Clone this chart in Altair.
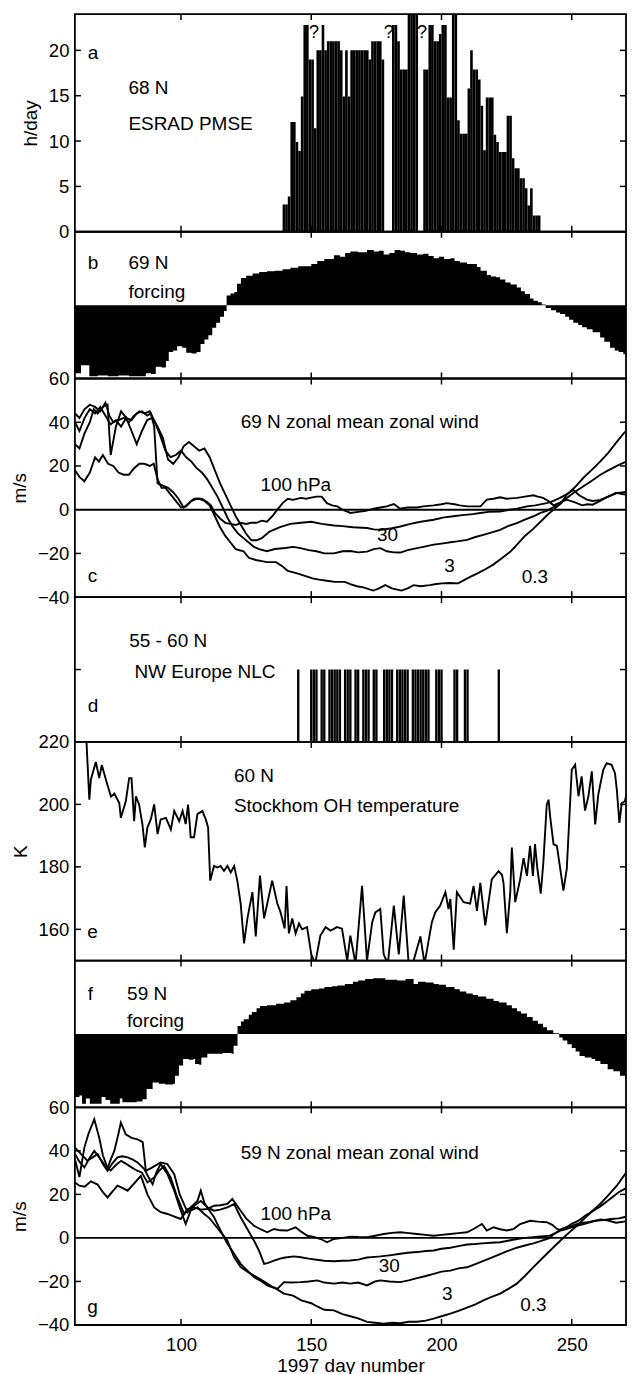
import altair as alt
import pandas as pd

FONT = "Liberation Sans"
W = 552
XDOM = [59.26, 270.83]
XTICKS = [100, 150, 200, 250]

# ---------------- data ----------------
# (a) ESRAD PMSE, hours per day, one value per day starting at day 139
pmse_first_day = 139
pmse_hours = [3.0, 3.0, 3.9, 12.1, 12.1, 9.9, 8.9, 14.9, 22.8, 22.8,
              19.0, 19.0, 11.4, 20.0, 20.0, 22.8, 20.0, 21.0, 21.0, 21.0,
              21.0, 21.0, 20.0, 14.9, 20.0, 14.9, 20.0, 20.0, 20.0, 20.0,
              20.0, 20.0, 20.0, 19.0, 21.0, 21.0, 21.0, 21.0, 19.0, 0,
              0, 0, 22.8, 22.8, 21.0, 17.9, 17.9, 17.9, 24, 24,
              24, 24, 0, 0, 17.9, 17.9, 22.8, 22.8, 21.0, 21.0,
              21.8, 22.8, 22.8, 14.8, 14.8, 24, 24, 12.3, 10.8, 10.8,
              10.8, 15.8, 20.0, 17.9, 17.9, 16.8, 13.9, 9.0, 14.8, 14.8,
              14.8, 10.7, 9.9, 8.8, 8.8, 8.8, 12.8, 12.8, 8.1, 7.0,
              7.0, 5.9, 5.9, 4.8, 2.9, 4.8, 1.8, 1.8, 1.8]
pmse_question_marks = [(149.1, 21.9), (177.8, 21.9), (190.6, 21.9)]

# (b) 69 N forcing (relative units), (day, value)
forcing_69 = [(59.26, -0.93), (61.6, -0.82), (64.8, -0.97), (68, -0.96), (72, -0.97), (76, -0.96),
              (80, -0.97), (84, -0.97), (86.5, -0.93), (88.5, -0.94), (90.3, -0.84), (92.5, -0.85),
              (94.2, -0.76), (95.3, -0.64), (97, -0.62), (98.5, -0.56), (100.5, -0.58), (102, -0.65),
              (104, -0.66), (106, -0.64), (107.5, -0.53), (109, -0.47), (110.5, -0.41), (112, -0.31),
              (113.5, -0.24), (115, -0.16), (116.5, -0.08), (117.5, 0.13), (119, 0.16), (120.5, 0.18),
              (121.5, 0.29), (123, 0.37), (125, 0.40), (127.5, 0.43), (130, 0.45), (133, 0.46),
              (136, 0.47), (139, 0.49), (142, 0.51), (145, 0.53), (148, 0.53), (150, 0.56),
              (152.3, 0.60), (155, 0.63), (158.7, 0.68), (161, 0.66), (163, 0.71), (165, 0.73),
              (168, 0.72), (171.4, 0.75), (174, 0.73), (176, 0.74), (177.8, 0.69), (180, 0.71),
              (182, 0.75), (184.2, 0.74), (186, 0.72), (188, 0.71), (190.6, 0.69), (193, 0.70),
              (195, 0.67), (197, 0.64), (199, 0.66), (201, 0.63), (203.4, 0.64), (205, 0.60),
              (207, 0.58), (209.8, 0.56), (211.5, 0.56), (213.6, 0.52), (215, 0.47), (217.4, 0.41),
              (219, 0.39), (221, 0.38), (222.5, 0.35), (224.5, 0.31), (226.5, 0.28), (228.9, 0.24),
              (230.5, 0.19), (232, 0.15), (234, 0.09), (235.3, 0.06), (237, 0.04), (238.5, 0.01),
              (240, -0.04), (242, -0.07), (244, -0.10), (245.5, -0.12), (247.5, -0.16), (249, -0.20),
              (250.6, -0.24), (252.5, -0.27), (254, -0.30), (255.8, -0.33), (258, -0.37), (260.9, -0.44),
              (262.5, -0.50), (264.7, -0.58), (266.5, -0.62), (268, -0.64), (269.8, -0.67), (271, -0.73),
              (272, -0.80), (272.73, -0.85)]

# (c) 69 N zonal mean zonal wind, m/s, (day, value)
c_100hpa = [(59.3, 18), (61, 15), (62.9, 13), (65, 17), (67, 24), (68.5, 22), (70, 25), (72, 21), (74, 20), (76, 17),
            (78, 16), (80, 16), (82, 19), (84, 21), (86, 21), (88, 20), (89.5, 21), (91, 14), (92.5, 10), (94, 10),
            (96, 7), (98, 4), (100, 1), (102, 1.5), (104, 4), (106, 5), (108, 5), (110, 3.5), (111.5, 2), (113, -1.5),
            (115, -4), (117, -6), (119, -6.5), (121, -7), (123, -6), (125, -6.5), (127, -6), (129, -6), (131, -5), (133, -5.5),
            (135, -3), (137, 0), (139, 3), (141, 5), (143, 4.5), (146, 5.4), (148, 5), (150, 5.5), (152, 6), (154, 6),
            (156, 3), (158, 2), (160, 1.5), (162, 0), (165, -1.5), (168, -1), (171, -0.5), (174, 0.5), (176.5, 1), (179, 1.5),
            (181.7, 2.6), (184, 0.5), (187, 1), (190.6, 1), (193, 1.5), (197, 2), (200, 2.5), (202, 3), (205, 2.5), (207, 2),
            (210, 1.5), (213, 1.5), (215, 1.5), (217.4, 4.6), (220, 5), (222.5, 5.7), (225, 5), (229, 5.4), (232, 6), (235.3, 6.6),
            (237, 6), (239, 5.4), (241, 4), (243, 2), (245, 3), (248, 4.6), (251, 3.5), (254, 2), (256, 2.5), (258, 2.3),
            (260, 3.5), (263, 5.4), (265, 6.5), (267, 7.7), (270, 7), (272.73, 6.9)]
c_30hpa = [(59.3, 40), (61, 36), (63, 42), (65, 46), (67, 44), (69, 47), (71, 43), (73, 39), (75, 41), (77, 38),
           (79, 42), (81, 36), (83, 30), (85, 36), (87, 41), (89, 42), (91, 38), (93, 33), (95, 23), (97, 21),
           (99, 24), (101, 29), (103, 31), (105, 29), (107, 27), (109, 28), (111, 24), (113, 18), (115, 12), (117, 7),
           (119, 2), (121, -3), (123, -7), (125, -11), (127, -14), (129, -14), (131, -13), (134, -10), (138, -8), (142, -6.5),
           (146, -6), (150, -5.5), (154, -6.5), (158.7, -7.2), (162, -7.5), (166, -8), (171.4, -8.4), (174, -9), (177, -9.2), (181, -8.5),
           (184.2, -7.7), (188, -6.5), (192, -5.5), (197, -4.6), (201, -3.5), (204.6, -3), (208, -2.5), (212, -2), (214.9, -1.5), (218, -1),
           (222.5, -0.8), (226, 0), (229, 0.5), (232.8, 1.5), (236, 2), (240.4, 3), (243, 4), (245.5, 5.4), (248, 7), (250.6, 9),
           (253, 6.5), (255.8, 4.6), (258, 4), (261, 4.5), (264, 6), (267, 7.5), (270, 8), (272.73, 8.5)]
c_3hpa = [(59.3, 44), (61, 42), (63, 46), (65, 48), (67, 47), (69, 45), (71, 49), (72.5, 43), (74, 40), (76, 41),
          (78, 42), (80, 40), (82, 43), (84, 45), (86, 44), (88, 45), (90, 40), (92, 34), (94, 27), (96, 24),
          (98, 25), (100, 27), (102, 24), (104, 22), (106, 19), (108, 17), (110, 14), (112, 10), (114, 6), (116, 1),
          (118, -4), (120, -8), (122, -11), (124, -13), (126, -15), (128, -17), (130, -18), (133, -19), (136, -18), (140, -17.5),
          (143, -17), (145.9, -17.6), (149, -18.5), (152, -19), (155, -20), (158.7, -20), (162, -19), (165, -18.9), (168, -19.5), (171.4, -19.2),
          (174, -18), (176.5, -17.6), (179, -19), (181.7, -19.5), (184.2, -19.6), (187, -18.5), (190.6, -17.6), (193, -17), (197, -16), (200, -15.5),
          (203.4, -14.9), (206, -14.5), (209.8, -13.8), (213, -12.5), (216.1, -11.5), (219, -10.5), (222.5, -9.2), (225.5, -7.5), (228.9, -6.1), (232, -4.5),
          (235.3, -3), (238, -1.5), (240.4, -0.5), (242, 0.5), (244.3, 2), (246, 3.5), (248.1, 5.4), (251, 8), (254.5, 10.7), (258, 13.5),
          (261, 16), (264, 18), (267.3, 20), (270, 21.5), (272.73, 23)]
c_03hpa = [(59.3, 30), (61, 28), (63, 35), (65, 40), (66.5, 46), (68, 44), (70, 47), (71.8, 48), (73, 25), (75, 38),
           (77, 45), (79, 42), (81, 41), (83, 44), (85, 45), (87, 43), (88.4, 44), (89.7, 38), (91, 12), (93, 11),
           (95, 10), (97, 8), (99, 5), (101, 1), (103, 3), (105, 5), (107, 5), (109, 4), (111, 2), (113, -3),
           (115, -8), (117, -12), (119, -15), (121, -18), (124, -19), (126, -22), (128.7, -23), (131, -23.5), (133, -24), (136.5, -24),
           (139, -26), (141, -28), (144.3, -29), (147, -30), (150.5, -31.4), (153, -32), (156, -32.5), (159, -33), (162.9, -33), (165, -34),
           (167.5, -35), (170, -35.5), (173.8, -37), (176, -36), (178.4, -34.5), (181, -36), (184.6, -37), (187, -36), (189.3, -34.5), (192, -35),
           (195.5, -34.5), (198, -34), (200.2, -33.7), (203, -33.5), (206.4, -33.7), (209, -32), (211, -30.7), (214, -29), (217.2, -27), (220, -25),
           (223.4, -22), (226.6, -19), (229, -16), (232, -12), (235, -9), (238, -5.5), (241, -2), (243.5, 0.5), (246, 3), (248.1, 6.9),
           (251, 10), (254.5, 14.6), (257.5, 18), (260.9, 22), (264, 26), (267.3, 31), (270, 35), (272.73, 38)]

# (d) days with NLC observed over NW Europe
nlc_days = [145, 150, 151, 152, 154, 155, 157, 158, 159, 160, 161, 163, 164, 165, 167, 168,
            170, 171, 172, 174, 175, 178, 179, 180, 181, 183, 184, 185, 186, 187, 189, 190,
            191, 192, 193, 194, 195, 198, 199, 200, 205, 206, 209, 210, 222]

# (e) Stockholm OH temperature, K, (day, value)
oh_temp = [(63.6, 222), (64.8, 201.5), (65.4, 208), (67.3, 213.6), (68.6, 208.4), (69.6, 212.6), (71.2, 207.8),
           (73.1, 202.5), (74.4, 203.5), (76.3, 200.4), (76.9, 195.7), (78.8, 201), (80.1, 208.4), (81, 208.4),
           (82, 194.6), (82.7, 202.6), (83.9, 200), (85.2, 193.5), (86.1, 186.2), (87.1, 192.6), (88.4, 195.2),
           (89.7, 200), (91, 190.5), (92.2, 195.2), (94.2, 195.7), (96.1, 192), (97.4, 197.9), (99.3, 194.6),
           (100.6, 197.9), (101.8, 193.7), (102.7, 199.9), (103.4, 193.2), (103.7, 189.5), (105, 189.5), (106.3, 196.9),
           (108.2, 197.9), (109.5, 195.2), (110.4, 192.6), (111.2, 175.6), (112.7, 180.3), (114, 179.8), (115.2, 180.3),
           (116.5, 178.7), (117.8, 180.3), (119.1, 178.2), (120.4, 180.3), (121.6, 175.6), (122.9, 168.2), (124.2, 155.5),
           (125.5, 163.5), (127.4, 171.9), (128.7, 157.7), (130.3, 177.2), (131.9, 163.5), (133.1, 168.2), (135, 175.6),
           (137, 168.2), (138.2, 165.5), (139.8, 160.3), (140.5, 173.9), (141.4, 158.7), (142.7, 163.5), (144, 158.7),
           (145.3, 161.9), (146.5, 160), (148.4, 160.7), (150, 152), (151.5, 149), (153.5, 158), (155.5, 160.7),
           (157.4, 159.6), (159.9, 160.7), (161.8, 160.2), (163.8, 150), (165, 158), (167, 149), (169.5, 173.9),
           (171.4, 150), (173.4, 162.3), (174.6, 165.4), (176.5, 166.5), (177.8, 152), (179.4, 149), (181.7, 167.6),
           (183.6, 152), (185.5, 170.8), (187.4, 149), (189.3, 150), (191.9, 157.7), (193.5, 149), (196.3, 162.3),
           (197.6, 165.4), (199.5, 167.6), (201.5, 171.9), (202.7, 166.5), (203.4, 169.7), (204.7, 153.5), (205.9, 171.9),
           (208.5, 168.7), (211, 168.2), (212.3, 173.9), (213.6, 165.9), (214.9, 174.9), (216.8, 161.3), (219.3, 176),
           (221.9, 178.6), (223.2, 177.5), (223.8, 174.9), (225.1, 158.8), (226.4, 171.9), (227, 186.2), (228.3, 168.7),
           (230.2, 176), (231.5, 182.8), (232.8, 177.1), (234, 186.7), (235.1, 177.1), (235.9, 187.3), (236.8, 179.4),
           (238.1, 171.4), (239.1, 181.4), (240.4, 199.9), (241.1, 201.5), (241.7, 196.2), (243, 187.3), (244.3, 186.7),
           (246.8, 172.4), (248.1, 179.4), (250, 211.1), (251.3, 212.7), (252.6, 202.6), (253.8, 209), (255.1, 198),
           (256.4, 202.6), (257.7, 210.6), (259, 193.6), (260.2, 203.2), (262.1, 211.1), (263.4, 213.2), (265.3, 212.7),
           (266.6, 210), (267.3, 204.7), (268.3, 194.1), (269.2, 200.4), (270.4, 201), (271.7, 205.8), (272.73, 221)]

# (f) 59 N forcing (relative units), (day, value)
forcing_59 = [(59.26, -0.86), (61, -0.84), (62, -0.95), (63.5, -0.88), (65, -0.95), (68.2, -0.95), (69.5, -0.86),
              (71, -0.90), (72.8, -0.95), (75, -0.95), (76.5, -0.88), (77.5, -0.93), (80, -0.93), (83, -0.92),
              (85.2, -0.89), (86.8, -0.75), (89.1, -0.66), (91.5, -0.68), (94, -0.69), (96.9, -0.68), (97.7, -0.57),
              (99.2, -0.43), (100.8, -0.34), (103, -0.35), (104.7, -0.34), (105.4, -0.41), (107, -0.42), (107.8, -0.32),
              (110.1, -0.27), (113, -0.27), (116, -0.26), (119.4, -0.27), (120.2, -0.16), (121.7, 0.11), (123, 0.17),
              (124.1, 0.20), (126, 0.26), (127.2, 0.30), (129, 0.35), (130.3, 0.38), (133, 0.39), (136.5, 0.41),
              (139.6, 0.43), (142, 0.46), (144.3, 0.50), (146, 0.55), (147.4, 0.59), (150, 0.61), (153, 0.62),
              (155.1, 0.64), (158, 0.65), (160, 0.66), (162.9, 0.68), (166, 0.71), (168, 0.73), (170.7, 0.75),
              (173.8, 0.76), (176, 0.76), (178.4, 0.74), (181, 0.74), (183, 0.73), (186.2, 0.75), (189.3, 0.68),
              (191, 0.71), (193.9, 0.70), (197, 0.68), (199, 0.67), (201.7, 0.64), (205, 0.61), (207, 0.58),
              (209.5, 0.55), (212, 0.53), (214, 0.51), (217.2, 0.48), (220, 0.45), (222, 0.43), (225, 0.39),
              (227, 0.35), (229, 0.31), (230.5, 0.28), (232.8, 0.23), (235, 0.18), (237, 0.14), (239, 0.09),
              (240.5, 0.05), (242.9, 0.01), (245.2, -0.05), (246.5, -0.09), (248.3, -0.14), (250, -0.19), (251.5, -0.24),
              (253, -0.30), (255, -0.32), (257.6, -0.34), (259, -0.37), (261, -0.41), (263.8, -0.48), (266, -0.51),
              (268.5, -0.57), (270.5, -0.62), (272.73, -0.66)]

# (g) 59 N zonal mean zonal wind, m/s, (day, value)
g_100hpa = [(59.3, 25.5), (61, 24), (63, 23.5), (65.4, 26), (68, 24.5), (70, 21), (71.8, 18.6), (73.5, 21), (75.6, 24), (77.5, 23),
            (79.5, 21.7), (82, 25), (84.6, 28.5), (87.1, 20), (89.7, 14), (92, 12), (94.8, 11), (97, 10), (99.9, 8.7), (102.5, 13.3),
            (105, 14), (107.6, 13), (110.1, 13.3), (112.7, 14.8), (115, 15), (117.8, 15.6), (119.7, 17.9), (122.9, 12.5), (125, 9), (128, 5.6),
            (130.5, 4), (133.1, 2.6), (135.7, 4.1), (138, 3.5), (140.8, 3.4), (144, 4.9), (146, 3), (148.5, 1), (151, 0.5), (153.6, -0.5),
            (156.1, -2), (158.7, -0.5), (162, 0), (165, 0.6), (168, 0.4), (171.4, 0.3), (174.5, 1), (177.8, 1.8), (181, 2.3), (184.2, 2.6),
            (187.5, 2.2), (190.6, 1.8), (194, 1.4), (197, 1), (200, 1.4), (203.4, 1.8), (206.5, 2.2), (209.8, 2.6), (212.3, 4.1), (215.5, 6.4),
            (217.4, 3.4), (220, 4.9), (222.5, 4), (225.1, 3.4), (227.6, 4.1), (230.2, 6.4), (234, 7.9), (237, 7.5), (240.4, 7.2), (242.5, 6),
            (244.3, 4.1), (246.5, 3.5), (249, 4.5), (252, 5.5), (255, 6.5), (258, 7.5), (261, 8.5), (264, 8), (267, 7), (270, 7.5), (272.73, 7.9)]
g_30hpa = [(59.3, 38.5), (61, 35), (62.9, 32.4), (65, 37), (66.7, 40), (68.6, 37), (71, 33), (73, 31), (75, 33.5), (77, 35.4),
           (79, 34), (81, 32.4), (83, 31), (85, 30), (87.1, 25.5), (89.7, 27.8), (91.6, 30.8), (93.5, 33), (96, 27.8), (98.6, 18.6),
           (101.2, 11), (103.7, 14), (106.3, 17), (107.6, 21.7), (109, 16), (110.1, 14), (112.7, 12.5), (115, 13), (117.8, 14), (120.4, 15.6),
           (122.9, 9.5), (125.5, 4), (128, -1.2), (130, -6), (131.9, -11.9), (133.5, -11.5), (135.7, -10.4), (138, -9.5), (140, -9), (143.4, -8.5),
           (146, -8.9), (149, -9.5), (152, -10), (155, -10.5), (158.7, -10.7), (162, -10.5), (165, -10.4), (168, -10), (171.4, -9), (174.5, -8.7),
           (176.5, -8.5), (180, -8), (184.2, -7.3), (187, -6.8), (190.6, -6.5), (194, -6), (197, -5.8), (200, -5), (203.4, -4.5), (206.5, -3.8),
           (209.8, -3), (213, -2.8), (215.5, -2.5), (219, -2.2), (222.5, -2), (226, -1.2), (229, -0.5), (232, 0), (235, 0.3), (238, 0.7),
           (241.5, 1), (243.5, 2), (246, 4), (248, 4.9), (250, 5.5), (253, 6.8), (256, 7.2), (259, 7.9), (262, 8.2), (265, 8.7),
           (268, 9), (270, 9.5), (272.73, 10.2)]
g_3hpa = [(59.3, 41.5), (62, 38), (64.1, 35.4), (66, 37), (68, 38.5), (70, 34), (71.8, 30.8), (73.5, 34), (75.6, 37), (77.5, 37.5),
          (79.5, 37), (81.5, 36), (83.3, 34.7), (85.9, 31.6), (87.5, 28), (89.1, 24.7), (90.5, 30), (92.2, 34), (94.8, 29.3), (97.4, 21.7),
          (99.5, 14), (101.8, 6.4), (103.7, 12.5), (106.3, 14), (108.9, 11), (111, 9), (112.7, 6.4), (115, 3), (117.8, -1.2), (120.4, -8.9),
          (122.9, -13.4), (125.5, -15.5), (128, -17.3), (130.5, -19), (133.1, -21), (135, -22.5), (137, -23.4), (139.5, -20.3), (142, -20.5), (145.9, -20.3),
          (149, -20), (152.3, -19.5), (155, -20.5), (158.7, -21), (162, -20.5), (165, -21), (168, -20.5), (171.4, -21.8), (174.5, -20), (176.5, -19.5),
          (180, -20), (184.2, -20.3), (187.4, -19.5), (190.6, -18.5), (194, -17.5), (197, -16.5), (200, -15.5), (203.4, -15), (206.5, -14), (209.8, -13.5),
          (213, -12), (216.1, -10.5), (219, -9.2), (222.5, -7.5), (225.5, -6), (228.9, -4.5), (232, -3.5), (235.3, -2.5), (238, -1.5), (241.7, 0),
          (243, 1.8), (246.8, 4), (250, 6.5), (252.6, 7.9), (255, 10), (258.3, 12.5), (261, 14.5), (264.7, 17.9), (268, 21), (270.4, 22.5),
          (272.73, 24)]
g_03hpa = [(59.3, 36), (61, 28), (62.9, 41.5), (64.5, 48), (66.7, 54.5), (68.6, 46), (70, 38), (71.8, 32), (73, 36), (74.4, 40),
           (76, 48), (76.9, 53), (78.8, 47.6), (81, 46), (83.3, 45.3), (85.3, 44), (86.5, 30.8), (89, 32.4), (92.2, 34.7), (94.8, 33.9),
           (97.4, 29.3), (99.5, 20), (100.6, 17), (102.5, 11.8), (105, 14.8), (107.6, 17), (110.1, 14), (112.7, 9.5), (114.5, 5), (116.5, 0.3),
           (118, -3), (120.4, -7.3), (122.9, -11.9), (125.5, -15), (128, -18), (131, -20), (133.1, -21.8), (136, -23), (139.5, -25.6), (143, -26.5),
           (146.2, -28.7), (150, -30), (152.3, -31.5), (155, -33), (158.7, -33.3), (162, -35), (165, -36), (168, -37), (171.4, -38.6), (174.5, -39),
           (177.8, -39.4), (181, -39), (184.2, -39.2), (187.4, -38.5), (190.6, -38.5), (194, -38), (197, -37.1), (200, -36), (203.4, -34.8), (206.5, -33.5),
           (209.8, -32), (213, -30.5), (216.1, -28.7), (219, -27.2), (222.5, -25.6), (225.5, -23.5), (228.9, -21), (232, -17.5), (235.3, -13.4), (239, -9),
           (243, -4.3), (245, -2), (247, 0.3), (249.5, 3), (252, 5.6), (254.5, 8.5), (258, 12.5), (260.9, 15.6), (264, 19.5), (267.3, 24),
           (270, 28.5), (272.73, 33)]

# annotation texts: (text, day, value)
a_text = [("a", 64.2, 19.75), ("68 N", 79.8, 15.8), ("ESRAD PMSE", 79.8, 11.9)]
b_text = [("b", 64.2, 0.57), ("69 N", 79.8, 0.57), ("forcing", 79.8, 0.18)]
c_text = [("c", 64.2, -30.5), ("69 N zonal mean zonal wind", 122.9, 40), ("100 hPa", 130.5, 11.4),
          ("30", 175.2, -11.4), ("3", 201.1, -25.9), ("0.3", 230.8, -31)]
d_text = [("55 - 60 N", 80.1, 1.39), ("NW Europe NLC", 82.1, 0.97), ("d", 64.2, 0.49)]
e_text = [("60 N", 120.3, 209.1), ("Stockhom OH temperature", 120.3, 199.5), ("e", 64.0, 159.2)]
f_text = [("f", 64.2, 0.55), ("59 N", 79.3, 0.55), ("forcing", 79.3, 0.18)]
g_text = [("59 N zonal mean zonal wind", 122.9, 39.2), ("100 hPa", 130.5, 11), ("30", 175.9, -12.7),
          ("3", 200.2, -25.7), ("0.3", 230.2, -31), ("g", 64.0, -31.8)]

# ---------------- helpers ----------------
TICK = 6       # inward tick length (px)
TICK_W = 1.5
LINE_W = 1.9


def X(field, axis=None):
    return alt.X(field, type="quantitative", scale=alt.Scale(domain=XDOM, nice=False, zero=False, padding=0),
                 axis=axis)


def Y(field, dom, axis=None):
    return alt.Y(field, type="quantitative", scale=alt.Scale(domain=dom, nice=False, zero=False, padding=0),
                 axis=axis)


X_BOTTOM = alt.Axis(orient="bottom", ticks=False, domain=False, grid=False, values=XTICKS,
                    labelFontSize=18.5, labelPadding=11, labelFlush=False, labelColor="black",
                    title="1997 day number", titleFontSize=19, titleFontWeight="normal",
                    titlePadding=2, titleColor="black")


def y_left(values, title):
    return alt.Axis(orient="left", ticks=False, values=values, labelFontSize=18.5, labelPadding=6,
                    labelFlush=False, labelOverlap=False, labelColor="black",
                    domain=False, grid=False, title=title, titleFontSize=19,
                    titleFontWeight="normal", titlePadding=8, titleColor="black")


def tick_layers(height, dom, left_vals, right_vals):
    """Inward ticks on all four sides of a panel, placed by the panel's own scales."""
    out = []
    xt = pd.DataFrame({"t": XTICKS})
    base = alt.Chart(xt).mark_rule(color="black", strokeWidth=TICK_W)
    out.append(base.encode(x=X("t"), y=alt.value(0), y2=alt.value(TICK)))
    out.append(base.encode(x=X("t"), y=alt.value(height), y2=alt.value(height - TICK)))
    if left_vals:
        lt = pd.DataFrame({"t": left_vals})
        out.append(alt.Chart(lt).mark_rule(color="black", strokeWidth=TICK_W).encode(
            y=Y("t", dom), x=alt.value(0), x2=alt.value(TICK)))
    if right_vals:
        rt = pd.DataFrame({"t": right_vals})
        out.append(alt.Chart(rt).mark_rule(color="black", strokeWidth=TICK_W).encode(
            y=Y("t", dom), x=alt.value(W), x2=alt.value(W - TICK)))
    return out


def texts(items, dom, size=19):
    df = pd.DataFrame(items, columns=["t", "d", "v"])
    return alt.Chart(df).mark_text(align="left", baseline="middle", fontSize=size, font=FONT,
                                   color="black").encode(x=X("d"), y=Y("v", dom), text="t:N")


def lines(series, dom, xaxis, yaxis):
    rows = []
    for name, pts in series:
        for i, (d, v) in enumerate(pts):
            rows.append({"d": d, "v": v, "s": name, "o": i})
    df = pd.DataFrame(rows)
    return alt.Chart(df).mark_line(color="black", strokeWidth=LINE_W, clip=True).encode(
        x=X("d", xaxis), y=Y("v", dom, yaxis), detail="s:N", order="o:Q")


def zero_rule(dom):
    return alt.Chart(pd.DataFrame({"z": [0]})).mark_rule(color="black", strokeWidth=LINE_W).encode(y=Y("z", dom))


def panel(layers, height):
    return alt.layer(*layers).resolve_axis(x="independent", y="independent").properties(
        width=W, height=height)


# ---------------- panels ----------------
# a  PMSE
H_A = 218
dom_a = [0, 24]
df_a = pd.DataFrame({"d": [pmse_first_day + i for i in range(len(pmse_hours))], "h": pmse_hours})
df_a["d2"] = df_a["d"] + 1
bars_a = alt.Chart(df_a).mark_bar(color="black", clip=True).encode(
    x=X("d"), x2="d2", y=Y("h", dom_a, y_left([0, 5, 10, 15, 20], "h/day")), y2=alt.datum(0))
pa = panel([bars_a,
            texts([("?", d, v) for d, v in pmse_question_marks], dom_a, 18),
            texts(a_text, dom_a)] + tick_layers(H_A, dom_a, [5, 10, 15, 20], [5, 10, 15, 20]), H_A)


# b / f  forcing
def forcing_panel(pts, txt):
    h = 147
    dom = [-1, 1]
    df = pd.DataFrame(pts, columns=["d", "v"])
    area = alt.Chart(df).mark_area(color="black", interpolate="step-after", clip=True).encode(
        x=X("d"), y=Y("v", dom), y2=alt.datum(0))
    return panel([area, texts(txt, dom)] + tick_layers(h, dom, None, None), h)


pb = forcing_panel(forcing_69, b_text)
pf = forcing_panel(forcing_59, f_text)

# c  69 N wind
H_C = 219
dom_w = [-40, 60]
pc = panel([
    lines([("100", c_100hpa), ("30", c_30hpa), ("3", c_3hpa), ("0.3", c_03hpa)], dom_w,
          None, y_left([-40, -20, 0, 20, 40, 60], "m/s")),
    zero_rule(dom_w), texts(c_text, dom_w)] + tick_layers(H_C, dom_w, [-20, 20, 40], [-20, 20, 40]), H_C)

# d  NLC
H_D = 145
dom_d = [0, 2]
df_d = pd.DataFrame({"d": nlc_days})
df_d["d0"] = df_d["d"] - 0.45
df_d["d1"] = df_d["d"] + 0.45
df_d["v"] = 1
bars_d = alt.Chart(df_d).mark_bar(color="black", clip=True).encode(
    x=X("d0"), x2="d1", y=Y("v", dom_d), y2=alt.datum(0))
pd_ = panel([bars_d, texts(d_text, dom_d)] + tick_layers(H_D, dom_d, [1], [1]), H_D)

# e  OH temperature
H_E = 219
dom_e = [150, 220]
pe = panel([
    lines([("T", oh_temp)], dom_e, None, y_left([160, 180, 200, 220], "K")),
    texts(e_text, dom_e)] + tick_layers(H_E, dom_e, [160, 180, 200], [160, 180, 200]), H_E)

# g  59 N wind
H_G = 218
pg = panel([
    lines([("100", g_100hpa), ("30", g_30hpa), ("3", g_3hpa), ("0.3", g_03hpa)], dom_w,
          X_BOTTOM, y_left([-40, -20, 0, 20, 40, 60], "m/s")),
    zero_rule(dom_w), texts(g_text, dom_w)] + tick_layers(H_G, dom_w, [-20, 20, 40], [-20, 20, 40]), H_G)

chart = alt.vconcat(pa, pb, pc, pd_, pe, pf, pg, spacing=0, bounds="flush").properties(
    padding={"left": 1, "top": 3, "right": 0, "bottom": 0}
).configure_view(stroke="black", strokeWidth=1.8).configure_axis(
    labelFont=FONT, titleFont=FONT).configure_text(font=FONT)

chart.save("out.html", embed_options={"renderer": "svg", "actions": False})
